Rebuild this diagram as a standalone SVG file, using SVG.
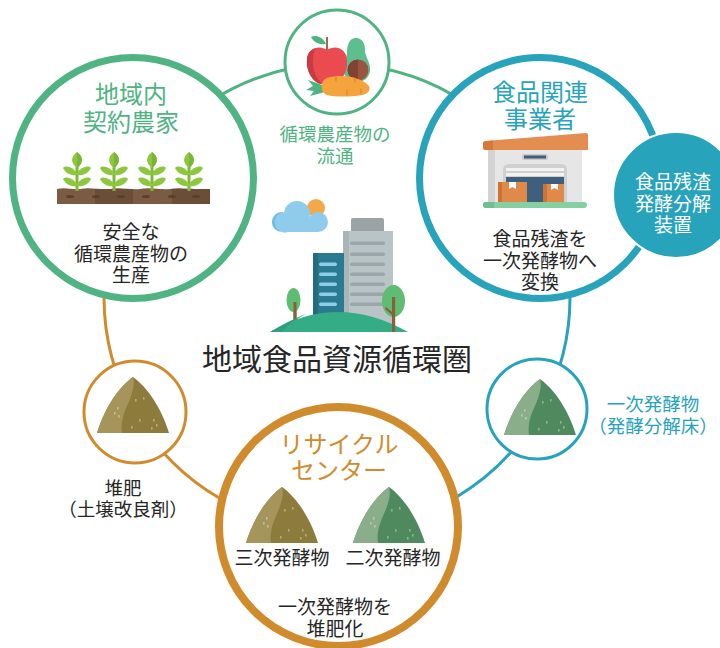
<svg xmlns="http://www.w3.org/2000/svg" xmlns:xlink="http://www.w3.org/1999/xlink" width="720" height="648" viewBox="0 0 720 648">
  <style>
    text { font-family: "Noto Sans CJK JP", "Noto Sans", sans-serif; font-weight: 400; dominant-baseline: central; text-anchor: middle; }
    .title { font-size: 24px; }
    .body { font-size: 19px; fill: #262626; }
    .small { font-size: 18.5px; }
    .green { fill: #4FB382; }
    .teal { fill: #27A3BC; }
    .orange { fill: #D08C2C; }
    .ring { fill: none; stroke-width: 3; }
    .node { fill: #FFFFFF; }
  </style>
  <defs>
    <!-- compost heap: apex at (0,0), base 72 wide at y=56 -->
    <path id="heapBody" d="M0,0 C-14,10 -28,30 -36,56 H36 C28,30 14,10 0,0 Z"/>
    <path id="heapLight" d="M0,0 C-14,10 -28,30 -36,56 H-11 C-13,42 -7,32 -3,22 C0,14 2,6 0,0 Z"/>
    <g id="heapDots" fill="#FFFFFF" fill-opacity="0.35">
      <rect x="-16" y="30" width="1.6" height="2.6"/>
      <rect x="-19" y="35" width="1.6" height="2.6"/>
      <rect x="-15" y="38" width="1.6" height="2.6"/>
      <rect x="2" y="22" width="1.6" height="2.6"/>
      <rect x="10" y="20" width="1.6" height="2.6"/>
      <rect x="6" y="42" width="1.6" height="2.6"/>
      <rect x="20" y="42" width="1.6" height="2.6"/>
      <rect x="23" y="47" width="1.6" height="2.6"/>
      <rect x="-2" y="49" width="1.6" height="2.6"/>
      <rect x="18" y="50" width="1.6" height="2.6"/>
    </g>
    <!-- seedling: origin at stem base on soil line -->
    <g id="plant">
      <rect x="-1.5" y="-30" width="3" height="32" fill="#7DB83A"/>
      <path d="M0,-37 C6,-33 7,-26 0,-21 C-7,-26 -6,-33 0,-37 Z" fill="#8DC63F"/>
      <path d="M0,-37 C6,-33 7,-26 0,-21 Z" fill="#7AB536"/>
      <path d="M0,-16 C-4,-22 -11,-24 -14,-21 C-11,-15 -5,-13 0,-14 Z" fill="#8DC63F"/>
      <path d="M0,-16 C4,-22 11,-24 14,-21 C11,-15 5,-13 0,-14 Z" fill="#8DC63F"/>
      <path d="M0,-5 C-4,-11 -11,-13 -14,-10 C-11,-4 -5,-2 0,-3 Z" fill="#8DC63F"/>
      <path d="M0,-5 C4,-11 11,-13 14,-10 C11,-4 5,-2 0,-3 Z" fill="#8DC63F"/>
    </g>
  </defs>

  <rect width="720" height="648" fill="#FFFFFF"/>

  <!-- circulation ring -->
  <g id="connectors">
    <path class="ring" stroke="#4FB382" d="M135.2,180.5 A233,233 0 0,1 533.3,171.5"/>
    <path class="ring" stroke="#27A3BC" d="M533.3,171.5 A233,233 0 0,1 337,530"/>
    <path class="ring" stroke="#D08C2C" d="M337,530 A233,233 0 0,1 135.2,180.5"/>
  </g>

  <!-- local contract farmers -->
  <g id="farmers">
    <circle class="node" cx="133" cy="178" r="120.5" stroke="#4FB382" stroke-width="7"/>
    <text class="title green" x="131" y="92">地域内</text>
    <text class="title green" x="131" y="120">契約農家</text>
    <g id="seedlings">
      <path d="M57,189 C66,187 72,190 80,189 C90,187 100,190 110,189 C120,187 130,190 140,189 C150,187 160,190 170,189 C180,187 190,190 210,189 V204 H57 Z" fill="#7B5B43"/>
      <rect x="95" y="189" width="38" height="15" fill="#6B4D38"/>
      <rect x="172" y="189" width="38" height="15" fill="#6B4D38"/>
      <g fill="#5A3F2C">
        <ellipse cx="70" cy="196.5" rx="4" ry="1.5"/>
        <ellipse cx="96" cy="196.5" rx="4" ry="1.5"/>
        <ellipse cx="121" cy="196.5" rx="4" ry="1.5"/>
        <ellipse cx="146" cy="196.5" rx="4" ry="1.5"/>
        <ellipse cx="172" cy="196.5" rx="4" ry="1.5"/>
        <ellipse cx="196" cy="196.5" rx="4" ry="1.5"/>
      </g>
      <use xlink:href="#plant" x="77" y="189"/>
      <use xlink:href="#plant" x="114" y="189"/>
      <use xlink:href="#plant" x="152" y="189"/>
      <use xlink:href="#plant" x="189" y="189"/>
    </g>
    <text class="body" x="131" y="230">安全な</text>
    <text class="body" x="131" y="252">循環農産物の</text>
    <text class="body" x="131" y="273">生産</text>
  </g>

  <!-- produce distribution -->
  <g id="produce">
    <circle class="node" cx="337" cy="62" r="52" stroke="#4FB382" stroke-width="3"/>
    <path d="M356,38 C349,38 347,46 347,52 C347,58 343,62 343,68 C343,77 350,82 357,82 C365,82 371,76 370,67 C369,60 365,56 365,50 C365,43 362,38 356,38 Z" fill="#5DBE8E"/>
    <circle cx="358" cy="70" r="10.5" fill="#9A5540"/>
    <path d="M358,59.5 A10.5,10.5 0 0,0 358,80.5 Z" fill="#7E4333"/>
    <rect x="326" y="37" width="2" height="14" fill="#9C6B4F"/>
    <path d="M326,44 C322,36 315,35 311,37 C314,43 320,45 326,44 Z" fill="#4DB380"/>
    <path d="M327,50 C320,45 308,47 307,60 C306,72 314,84 322,84 C325,84 326,83 327,83 C328,83 330,84 332,84 C341,84 348,72 347,60 C346,47 334,45 327,50 Z" fill="#E94B51"/>
    <path d="M316,48 C309,50 307,55 307,60 C306,72 314,84 322,84 C316,78 312,68 313,60 C313,54 314,50 316,48 Z" fill="#C93B41"/>
    <path d="M325,86 L308,80 L313,86 L306,90 L314,91 L310,96 L325,92 Z" fill="#4DB380"/>
    <path d="M327,78 C340,74 360,76 369,86 C371,90 368,94 362,95 C350,97 335,97 327,95 C320,93 320,80 327,78 Z" fill="#F5A33C"/>
    <g stroke="#DC8626" stroke-width="1.2" stroke-linecap="round">
      <line x1="336" y1="77" x2="336" y2="81"/>
      <line x1="347" y1="90" x2="347" y2="95"/>
      <line x1="355" y1="78" x2="355" y2="82"/>
      <line x1="361" y1="89" x2="361" y2="93"/>
    </g>
    <text class="green" style="font-size:18.5px" x="335" y="133">循環農産物の</text>
    <text class="green" style="font-size:18.5px" x="335" y="155">流通</text>
  </g>

  <!-- food-related business -->
  <g id="food-business">
    <circle class="node" cx="540" cy="178" r="120.5" stroke="#27A3BC" stroke-width="7"/>
    <text class="title teal" x="540" y="90">食品関連</text>
    <text class="title teal" x="540" y="117">事業者</text>
    <g id="warehouse">
      <rect x="488" y="148" width="94" height="56" fill="#E6E6E6"/>
      <rect x="488" y="148" width="7" height="56" fill="#D3D3D3"/>
      <path d="M486,141 L586,133 Q588,133 588,135 V150 H486 Q483,150 483,147 V144 Q483,141 486,141 Z" fill="#E38D50"/>
      <path d="M486,141 L493,140.5 V150 H486 Q483,150 483,147 V144 Q483,141 486,141 Z" fill="#D9773A"/>
      <rect x="522" y="154" width="26" height="6" rx="2" fill="#C9C9C9"/>
      <rect x="524" y="155.5" width="22" height="3" fill="#3F5E7C"/>
      <path d="M503,203 V170 Q503,164 509,164 H561 Q567,164 567,170 V203 Z" fill="#D0D0D0"/>
      <rect x="506" y="168" width="58" height="3" fill="#F2F2F2"/>
      <rect x="506" y="173" width="58" height="3" fill="#F2F2F2"/>
      <rect x="506" y="177" width="58" height="26" fill="#3E5F7E"/>
      <rect x="498" y="182" width="29" height="21" fill="#E08A4A"/>
      <rect x="498" y="182" width="4" height="21" fill="#CC7433"/>
      <path d="M509,182 H516 V189 L512.5,187 L509,189 Z" fill="#FFFFFF"/>
      <rect x="543" y="184" width="21" height="19" fill="#E08A4A"/>
      <rect x="543" y="184" width="4" height="19" fill="#CC7433"/>
      <path d="M551,184 H558 V190 L554.5,188 L551,190 Z" fill="#FFFFFF"/>
      <rect x="483" y="202" width="104" height="6" rx="3" fill="#86CFA0"/>
      <path d="M486,202 H494 V208 H486 Q483,208 483,205 Q483,202 486,202 Z" fill="#6FC08D"/>
    </g>
    <text class="body" x="540" y="237">食品残渣を</text>
    <text class="body" x="540" y="259">一次発酵物へ</text>
    <text class="body" x="540" y="280">変換</text>
  </g>

  <!-- food residue fermentation unit -->
  <g id="fermenter">
    <circle cx="676" cy="195" r="63" fill="#27A3BC" stroke="#FFFFFF" stroke-width="2"/>
    <text class="body" style="fill:#FFFFFF" x="673" y="180">食品残渣</text>
    <text class="body" style="fill:#FFFFFF" x="673" y="202">発酵分解</text>
    <text class="body" style="fill:#FFFFFF" x="673" y="223">装置</text>
  </g>

  <!-- regional food resource circulation sphere -->
  <g id="city">
    <circle cx="316" cy="208" r="9" fill="#F3A94B"/>
    <g fill="#8FCBEA">
      <circle cx="297" cy="214" r="13"/>
      <circle cx="282" cy="222" r="10"/>
      <circle cx="318" cy="222" r="10"/>
      <rect x="282" y="218" width="36" height="14"/>
    </g>
    <path d="M282,212 A10,10 0 0,0 282,232 H288 A10,10 0 0,1 282,212 Z" fill="#6EBBE4"/>
    <rect x="351" y="218" width="33" height="15" rx="2" fill="#9AA3A6"/>
    <rect x="343" y="231" width="50" height="95" fill="#B9C4C7"/>
    <rect x="343" y="231" width="6" height="95" fill="#AAB5B8"/>
    <g fill="#9AA6A9">
      <rect x="350" y="241.5" width="35" height="3.5" rx="1.75"/>
      <rect x="350" y="252.5" width="35" height="3.5" rx="1.75"/>
      <rect x="350" y="262.5" width="35" height="3.5" rx="1.75"/>
      <rect x="350" y="272.5" width="35" height="3.5" rx="1.75"/>
      <rect x="350" y="282.5" width="35" height="3.5" rx="1.75"/>
      <rect x="350" y="292.5" width="35" height="3.5" rx="1.75"/>
      <rect x="350" y="302.5" width="35" height="3.5" rx="1.75"/>
    </g>
    <rect x="313" y="253" width="31" height="73" fill="#2B7A91"/>
    <rect x="313" y="253" width="5" height="73" fill="#236C80"/>
    <g fill="#8ECDEA">
      <rect x="319" y="262.5" width="18" height="3.5" rx="1.75"/>
      <rect x="319" y="272.5" width="18" height="3.5" rx="1.75"/>
      <rect x="319" y="282.5" width="18" height="3.5" rx="1.75"/>
      <rect x="319" y="292.5" width="18" height="3.5" rx="1.75"/>
      <rect x="319" y="302.5" width="18" height="3.5" rx="1.75"/>
    </g>
    <rect x="293.5" y="298" width="3" height="22" fill="#8B5E3C"/>
    <ellipse cx="293.5" cy="300" rx="7" ry="12" fill="#5FBD73"/>
    <rect x="293.5" y="302" width="3" height="18" fill="#8B5E3C"/>
    <path d="M270,332 Q337,292 408,332 Z" fill="#34AD87"/>
    <path d="M270,332 Q290,320 306,314 Q290,322 282,332 Z" fill="#2E9E7B"/>
    <ellipse cx="393.5" cy="301" rx="11.5" ry="16" fill="#5FBD73"/>
    <rect x="392" y="297" width="3.2" height="35" fill="#8B5E3C"/>
    <path d="M392,312 L386,307 L385,309 L392,315 Z" fill="#8B5E3C"/>
    <text style="font-size:30px;fill:#262626" x="337" y="357">地域食品資源循環圏</text>
  </g>

  <!-- compost -->
  <g id="compost">
    <circle class="node" cx="135" cy="412" r="51" stroke="#D08C2C" stroke-width="3"/>
    <g transform="translate(133,377)">
      <use xlink:href="#heapBody" fill="#8D7B3C"/>
      <use xlink:href="#heapLight" fill="#A6955A"/>
      <use xlink:href="#heapDots"/>
    </g>
    <text class="small" style="fill:#262626" x="123" y="487">堆肥</text>
    <text class="small" style="fill:#262626" x="123" y="508">（土壌改良剤）</text>
  </g>

  <!-- primary fermentation product -->
  <g id="primary-product">
    <circle class="node" cx="537" cy="409" r="50" stroke="#27A3BC" stroke-width="3"/>
    <g transform="translate(540,379)">
      <use xlink:href="#heapBody" fill="#4F8A5F"/>
      <use xlink:href="#heapLight" fill="#8AAE8A"/>
      <use xlink:href="#heapDots"/>
    </g>
    <text class="small teal" x="653" y="403">一次発酵物</text>
    <text class="small teal" x="653" y="425">（発酵分解床）</text>
  </g>

  <!-- recycling center -->
  <g id="recycling-center">
    <circle class="node" cx="338.5" cy="526.5" r="119.5" stroke="#D08C2C" stroke-width="8"/>
    <text class="title orange" x="339" y="442">リサイクル</text>
    <text class="title orange" x="339" y="468">センター</text>
    <g transform="translate(282,487)">
      <use xlink:href="#heapBody" fill="#8D7B3C"/>
      <use xlink:href="#heapLight" fill="#A6955A"/>
      <use xlink:href="#heapDots"/>
    </g>
    <g transform="translate(389,487)">
      <use xlink:href="#heapBody" fill="#4F8A5F"/>
      <use xlink:href="#heapLight" fill="#8AAE8A"/>
      <use xlink:href="#heapDots"/>
    </g>
    <text class="body" x="282" y="556">三次発酵物</text>
    <text class="body" x="393" y="556">二次発酵物</text>
    <text class="body" x="335" y="605">一次発酵物を</text>
    <text class="body" x="335" y="627">堆肥化</text>
  </g>
</svg>
